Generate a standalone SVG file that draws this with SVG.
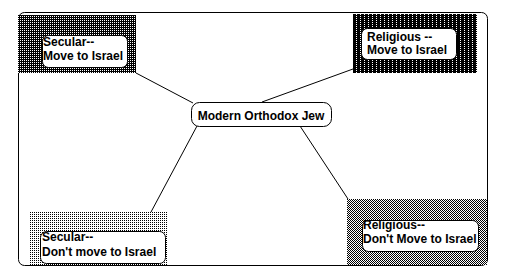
<svg xmlns="http://www.w3.org/2000/svg" width="505" height="278" viewBox="0 0 505 278">
<style>
.lbl{font-family:"Liberation Sans",Arial,sans-serif;font-weight:bold;font-size:12px;fill:#000}
.inner{fill:#fff;stroke:#000;stroke-width:1}
.conn{stroke:#000;stroke-width:1;fill:none}
.px{shape-rendering:crispEdges}
</style>
<defs>
<pattern id="p75" width="2" height="2" patternUnits="userSpaceOnUse">
<rect width="2" height="2" fill="#000"/><rect x="0" y="0" width="1" height="1" fill="#fff"/>
</pattern>
<pattern id="p88" width="4" height="2" patternUnits="userSpaceOnUse">
<rect width="4" height="2" fill="#000"/><rect x="0" y="0" width="1" height="1" fill="#fff"/>
</pattern>
<pattern id="p25" width="2" height="2" patternUnits="userSpaceOnUse">
<rect width="2" height="2" fill="#fff"/><rect x="0" y="0" width="1" height="1" fill="#000"/>
</pattern>
<pattern id="p50" width="2" height="2" patternUnits="userSpaceOnUse">
<rect width="2" height="2" fill="#fff"/><rect x="0" y="0" width="1" height="1" fill="#000"/><rect x="1" y="1" width="1" height="1" fill="#000"/>
</pattern>
</defs>
<rect width="505" height="278" fill="#fff"/>
<rect id="frame" x="18.5" y="12.5" width="469" height="253" rx="6" fill="none" stroke="#000"/>
<g id="connectors">
<line class="conn" x1="136" y1="73" x2="193" y2="103"/>
<line class="conn" x1="353" y1="69" x2="262" y2="102"/>
<line class="conn" x1="197" y1="126" x2="151" y2="212"/>
<line class="conn" x1="300" y1="126" x2="348" y2="199"/>
</g>
<g id="secular-move">
<rect class="px" x="18" y="15" width="118" height="58" fill="url(#p75)"/>
<rect class="inner" x="42.5" y="35.5" width="85" height="32" rx="6"/>
<text class="lbl" x="43" y="46">Secular--</text>
<text class="lbl" x="43" y="60">Move to Israel</text>
</g>
<g id="religious-move">
<rect class="px" x="353" y="14" width="124" height="59" fill="url(#p88)"/>
<rect class="inner" x="361.5" y="28.5" width="95" height="31" rx="6"/>
<text class="lbl" x="367" y="41">Religious --</text>
<text class="lbl" x="367" y="54">Move to Israel</text>
</g>
<g id="secular-stay">
<rect class="px" x="29" y="212" width="138" height="53" fill="url(#p25)"/>
<rect class="inner" x="40.5" y="231.5" width="125" height="32" rx="6"/>
<text class="lbl" x="42" y="241">Secular--</text>
<text class="lbl" x="42" y="256">Don't move to Israel</text>
</g>
<g id="religious-stay">
<rect class="px" x="347" y="199" width="140" height="66" fill="url(#p50)"/>
<line class="conn px" x1="487.5" y1="199" x2="487.5" y2="260"/>
<rect class="inner" x="362.5" y="220.5" width="116" height="31" rx="6"/>
<text class="lbl" x="363" y="229">Religious--</text>
<text class="lbl" x="363" y="243">Don't Move to Israel</text>
</g>
<g id="center">
<rect class="inner" x="191.5" y="102.5" width="140" height="24" rx="8"/>
<text class="lbl" x="261" y="120" text-anchor="middle">Modern Orthodox Jew</text>
</g>
</svg>
